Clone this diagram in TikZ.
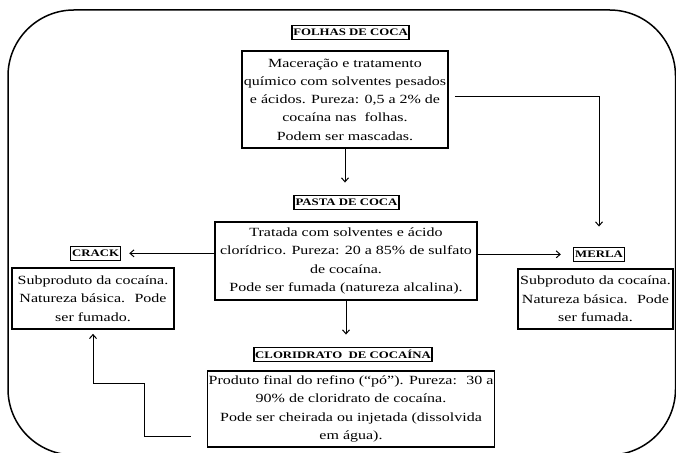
\documentclass[tikz,border=0pt]{standalone}
\usepackage{fontspec}
\setmainfont{Liberation Serif}[FakeStretch=1.28]
\usetikzlibrary{arrows.meta,positioning}

\begin{document}
\begin{tikzpicture}[>={Straight Barb[length=4pt,width=7pt]},x=1pt,y=1pt,
  stage/.style={draw,line width=1.7pt,align=center,inner sep=1pt,font=\fontsize{12.5}{18.3}\selectfont},
  tag/.style={draw,line width=1.6pt,inner xsep=1.5pt,inner ysep=0pt,minimum height=14pt,font=\fontsize{10}{12}\selectfont\bfseries},
  conn/.style={->,line width=1pt}]
  \clip (0,0) rectangle (676,452);
  \draw[line width=1.5pt,rounded corners=66pt] (8,-3) rectangle (675.5,442);

  \node[stage,minimum width=206pt,minimum height=97pt] (leaves) at (345,352.5)
    {Maceração e tratamento\\químico com solventes pesados\\e ácidos. Pureza: 0,5 a 2\% de\\cocaína nas~ folhas.\\Podem ser mascadas.};
  \node[tag,above=10pt of leaves,xshift=5.5pt] (leavestag) {FOLHAS DE COCA};
  \node[stage,minimum width=262pt,minimum height=78pt] (paste) at (346,191)
    {Tratada com solventes e ácido\\clorídrico. Pureza: 20 a 85\% de sulfato\\de cocaína.\\Pode ser fumada (natureza alcalina).};
  \node[tag,above=11pt of paste,xshift=0.5pt] (pastetag) {PASTA DE COCA};
  \node[stage,minimum width=162pt,minimum height=61pt] (crack) at (93,153.5)
    {Subproduto da cocaína.\\Natureza básica.~ Pode\\ser fumado.};
  \node[tag,above=6pt of crack,xshift=2.5pt] (cracktag) {CRACK};
  \node[stage,minimum width=155pt,minimum height=60pt] (merla) at (595.5,153)
    {Subproduto da cocaína.\\Natureza básica.~ Pode\\ser fumada.};
  \node[tag,above=6pt of merla,xshift=3.5pt] (merlatag) {MERLA};
  \node[stage,minimum width=278pt,minimum height=76pt] (hcl) at (351,43)
    {Produto final do refino (“pó”). Pureza:~ 30 a\\90\% de cloridrato de cocaína.\\Pode ser cheirada ou injetada (dissolvida\\em água).};
  \node[tag,above=8pt of hcl,xshift=-8pt] (hcltag) {CLORIDRATO~ DE COCAÍNA};

  \coordinate (bend) at (144,69);
  \draw[conn] (leaves.south) -- ([yshift=12pt]leaves.south |- pastetag.north);
  \draw[conn] ([xshift=6pt,yshift=2.5pt]leaves.east) -| ([yshift=20pt]merlatag.north);
  \draw[conn] (paste.west |- cracktag) -- ([xshift=8pt]cracktag.east);
  \draw[conn] (paste.east |- merlatag) -- ([xshift=-12pt]merlatag.west);
  \draw[conn] (paste.south) -- ([yshift=12pt]paste.south |- hcltag.north);
  \draw[conn] ([xshift=-16pt,yshift=-27pt]hcl.west) -| (bend) -| ([yshift=-4pt]crack.south);
\end{tikzpicture}
\end{document}
